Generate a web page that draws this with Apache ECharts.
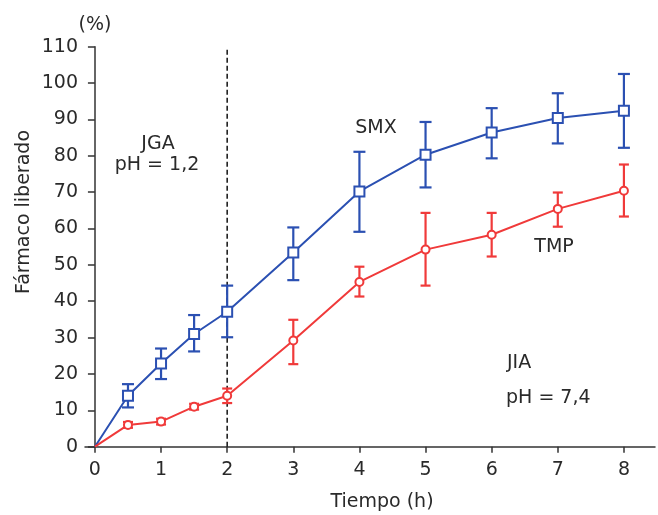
<!DOCTYPE html>
<html>
<head>
<meta charset="utf-8">
<script src="https://cdn.jsdelivr.net/npm/echarts@6/dist/echarts.min.js"></script>
<style>html,body{margin:0;padding:0;background:#fff}#c{width:658px;height:515px}</style>
</head>
<body>
<div id="c"></div>
<script>
var times = [0, 0.5, 1, 1.5, 2, 3, 4, 5, 6, 7, 8];
var smxMean = [0, 14, 22.9, 31, 37.1, 53.4, 70.2, 80.3, 86.4, 90.4, 92.4];
var smxLow  = [0, 10.8, 18.6, 26.2, 30.1, 45.8, 59.1, 71.3, 79.3, 83.4, 82.2];
var smxHigh = [0, 17.2, 27.0, 36.2, 44.3, 60.3, 81.1, 89.3, 93.1, 97.2, 102.5];
var tmpMean = [0, 6.0, 6.9, 11.0, 14.0, 29.2, 45.3, 54.2, 58.3, 65.4, 70.4];
var tmpLow  = [0, 5.2, 6.1, 10.2, 12.0, 22.7, 41.3, 44.3, 52.3, 60.5, 63.3];
var tmpHigh = [0, 6.8, 7.7, 11.8, 16.0, 34.9, 49.5, 64.3, 64.3, 69.9, 77.6];
var xTicks = [0, 1, 2, 3, 4, 5, 6, 7, 8];
var phaseBoundary = 2;

var BLUE = '#2b50b2', RED = '#f03a3a', TXT = '#2a2a2a';
var FONT = 'DejaVu Sans';
var FS = 19;

function pairs(m, sym) {
  return times.map(function (t, i) {
    return t === 0 ? { value: [t, m[i]], symbol: 'none' } : { value: [t, m[i]] };
  });
}
function errs(lo, hi) {
  var out = [];
  times.forEach(function (t, i) { if (hi[i] - lo[i] > 1.2) out.push([t, lo[i], hi[i]]); });
  return out;
}
function errRender(color, cap) {
  return function (params, api) {
    var x = api.value(0);
    var p1 = api.coord([x, api.value(1)]);
    var p2 = api.coord([x, api.value(2)]);
    var st = { stroke: color, lineWidth: 2.2 };
    return { type: 'group', children: [
      { type: 'line', shape: { x1: p1[0], y1: p1[1], x2: p2[0], y2: p2[1] }, style: st },
      { type: 'line', shape: { x1: p1[0] - cap, y1: p1[1], x2: p1[0] + cap, y2: p1[1] }, style: st },
      { type: 'line', shape: { x1: p2[0] - cap, y1: p2[1], x2: p2[0] + cap, y2: p2[1] }, style: st }
    ]};
  };
}

var chart = echarts.init(document.getElementById('c'));
var txt = function (t, x, y, align, extra) {
  var o = { type: 'text', x: x, y: y, style: { text: t, fill: TXT, font: FS + 'px ' + FONT, textAlign: align || 'center', textVerticalAlign: 'middle' } };
  if (extra) for (var k in extra) o[k] = extra[k];
  return o;
};
chart.setOption({
  animation: false,
  grid: { left: 85, right: 3, top: 46.7, bottom: 68.3 },
  xAxis: {
    type: 'value', min: -0.15, max: 8.47,
    axisLine: { lineStyle: { color: '#333', width: 1.5 } },
    axisTick: { customValues: xTicks, length: 6, lineStyle: { color: '#333', width: 1.5 } },
    axisLabel: { customValues: xTicks, color: TXT, fontSize: FS, fontFamily: FONT, margin: 14 },
    splitLine: { show: false }
  },
  yAxis: {
    type: 'value', min: 0, max: 110, interval: 10,
    axisLine: { show: true, lineStyle: { color: '#333', width: 1.5 } },
    axisTick: { show: true, length: 7, lineStyle: { color: '#333', width: 1.5 } },
    axisLabel: { color: TXT, fontSize: FS, fontFamily: FONT, margin: 7 },
    splitLine: { show: false }
  },
  graphic: [
    txt('(%)', 95, 25),
    txt('Fármaco liberado', 24, 212, 'center', { rotation: Math.PI / 2 }),
    txt('Tiempo (h)', 382, 502),
    txt('JGA', 158, 144),
    txt('pH = 1,2', 157, 165),
    txt('SMX', 376, 128),
    txt('TMP', 554, 247),
    txt('JIA', 507, 363, 'left'),
    txt('pH = 7,4', 506, 398, 'left')
  ],
  series: [
    { type: 'line', data: [[phaseBoundary, 0], [phaseBoundary, 110]], symbol: 'none', silent: true,
      lineStyle: { color: '#111', width: 1.5, type: [5, 3] }, z: 1 },
    { type: 'custom', data: errs(smxLow, smxHigh), renderItem: errRender(BLUE, 6), z: 3 },
    { type: 'custom', data: errs(tmpLow, tmpHigh), renderItem: errRender(RED, 5), z: 3 },
    { type: 'line', name: 'SMX', data: pairs(smxMean), symbol: 'rect', symbolSize: 10, showAllSymbol: true,
      lineStyle: { color: BLUE, width: 2 }, itemStyle: { color: '#fff', borderColor: BLUE, borderWidth: 2 }, z: 4 },
    { type: 'line', name: 'TMP', data: pairs(tmpMean), symbol: 'circle', symbolSize: 8, showAllSymbol: true,
      lineStyle: { color: RED, width: 2 }, itemStyle: { color: '#fff', borderColor: RED, borderWidth: 2 }, z: 4 }
  ]
});
</script>
</body>
</html>
